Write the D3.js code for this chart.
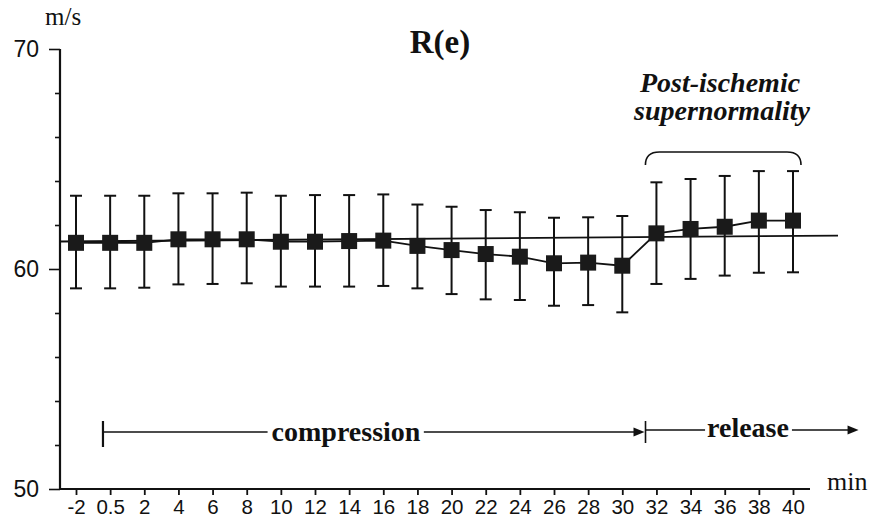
<!DOCTYPE html>
<html>
<head>
<meta charset="utf-8">
<script src="https://cdn.jsdelivr.net/npm/d3@7/dist/d3.min.js"></script>
<style>
  html, body { margin: 0; padding: 0; background: #fff; }
  svg { display: block; }
</style>
</head>
<body>
<svg id="chart" width="872" height="524"></svg>
<script>
// ---- data ----
const times = ["-2","0.5","2","4","6","8","10","12","14","16","18","20","22","24","26","28","30","32","34","36","38","40"];
const meanValues = [61.19,61.19,61.19,61.35,61.35,61.35,61.24,61.24,61.27,61.29,61.05,60.86,60.68,60.56,60.26,60.29,60.15,61.62,61.82,61.92,62.20,62.20];
const upperValues = [63.33,63.33,63.33,63.44,63.44,63.47,63.33,63.36,63.36,63.39,62.93,62.83,62.68,62.58,62.33,62.35,62.41,63.94,64.09,64.23,64.45,64.45];
const lowerValues = [59.12,59.12,59.15,59.30,59.32,59.35,59.20,59.20,59.20,59.23,59.12,58.86,58.62,58.59,58.33,58.36,58.03,59.32,59.55,59.70,59.83,59.85];
const baselineValues = [61.25, 61.52];   // reference (pre-compression) level line, start / end
const yMajorTicks = [50, 60, 70];
const yMinorTicks = [52, 54, 56, 58, 62, 64, 66, 68];
const titleText = "R(e)";
const yUnit = "m/s";
const xUnit = "min";

// ---- scales ----
const svg = d3.select("#chart");
const ink = "#111";
const x = d3.scalePoint().domain(times).range([76, 793]);
const y = d3.scaleLinear().domain([50, 70]).range([489, 49]);
const step = x.step();
const axisX = 60, axisRight = 810;

// ---- axes ----
const yAxisMajor = d3.axisLeft(y).tickValues(yMajorTicks).tickSize(11).tickPadding(10).tickFormat(d3.format("d"));
const gy = svg.append("g").attr("transform", `translate(${axisX},0)`).call(yAxisMajor);
gy.select(".domain").remove();
gy.selectAll(".tick line").attr("stroke", ink).attr("stroke-width", 1.6);
gy.selectAll(".tick text").attr("fill", ink).attr("font-family", "'Liberation Sans', Arial, sans-serif").attr("font-size", 23);

const gyMinor = svg.append("g").attr("transform", `translate(${axisX},0)`)
  .call(d3.axisLeft(y).tickValues(yMinorTicks).tickSize(5).tickFormat(""));
gyMinor.select(".domain").remove();
gyMinor.selectAll(".tick line").attr("stroke", ink).attr("stroke-width", 1.6);

svg.append("line").attr("x1", axisX).attr("x2", axisX).attr("y1", y(70)).attr("y2", y(50))
  .attr("stroke", ink).attr("stroke-width", 2.2);

const gx = svg.append("g").attr("transform", `translate(0,${y(50)})`)
  .call(d3.axisBottom(x).tickSize(6).tickPadding(4));
gx.select(".domain").remove();
gx.selectAll(".tick line").attr("stroke", ink).attr("stroke-width", 1.8);
gx.selectAll(".tick text").attr("fill", ink).attr("font-family", "'Liberation Sans', Arial, sans-serif").attr("font-size", 20.5);

svg.append("line").attr("x1", axisX).attr("x2", axisRight).attr("y1", y(50)).attr("y2", y(50))
  .attr("stroke", ink).attr("stroke-width", 2);

// axis unit labels
svg.append("text").attr("x", 45).attr("y", 25).text(yUnit)
  .attr("font-family", "'Liberation Serif', 'Times New Roman', serif").attr("font-size", 25).attr("fill", ink);
svg.append("text").attr("x", 827).attr("y", 490).text(xUnit)
  .attr("font-family", "'Liberation Serif', 'Times New Roman', serif").attr("font-size", 26).attr("fill", ink);

// title
svg.append("text").attr("x", 440).attr("y", 53).attr("text-anchor", "middle").text(titleText)
  .attr("font-family", "'Liberation Serif', 'Times New Roman', serif").attr("font-weight", "bold")
  .attr("font-size", 33).attr("fill", ink);

// ---- baseline reference line ----
svg.append("line")
  .attr("x1", axisX).attr("x2", x(times[times.length - 1]) + 45)
  .attr("y1", y(baselineValues[0])).attr("y2", y(baselineValues[1]))
  .attr("stroke", ink).attr("stroke-width", 1.8);

// ---- data ----
const data = times.map((t, i) => ({ t, m: meanValues[i], hi: upperValues[i], lo: lowerValues[i] }));

// error bars
const eb = svg.append("g").selectAll("g").data(data).join("g");
eb.append("line").attr("x1", d => x(d.t)).attr("x2", d => x(d.t))
  .attr("y1", d => y(d.hi)).attr("y2", d => y(d.lo)).attr("stroke", ink).attr("stroke-width", 2);
eb.append("line").attr("x1", d => x(d.t) - 6).attr("x2", d => x(d.t) + 6)
  .attr("y1", d => y(d.hi)).attr("y2", d => y(d.hi)).attr("stroke", ink).attr("stroke-width", 2);
eb.append("line").attr("x1", d => x(d.t) - 6).attr("x2", d => x(d.t) + 6)
  .attr("y1", d => y(d.lo)).attr("y2", d => y(d.lo)).attr("stroke", ink).attr("stroke-width", 2);

// connecting line
svg.append("path").datum(data)
  .attr("d", d3.line().x(d => x(d.t)).y(d => y(d.m)))
  .attr("fill", "none").attr("stroke", ink).attr("stroke-width", 1.8);

// square markers
svg.append("g").selectAll("rect").data(data).join("rect")
  .attr("x", d => x(d.t) - 8).attr("y", d => y(d.m) - 8)
  .attr("width", 16).attr("height", 16).attr("fill", "#1a1a1a");

// ---- annotations ----
const serif = "'Liberation Serif', 'Times New Roman', serif";
const compStart = x("-2") + 0.79 * step;
const relStart = x("30") + 0.68 * step;
const arrowEnd = x("40") + 1.92 * step;
const compY = 432, relY = 430;

function arrowHead(xEnd, yy) {
  svg.append("path")
    .attr("d", `M${xEnd},${yy} L${xEnd - 11},${yy - 4.5} L${xEnd - 11},${yy + 4.5} Z`)
    .attr("fill", ink);
}

// start bars
svg.append("line").attr("x1", compStart).attr("x2", compStart).attr("y1", compY - 11).attr("y2", compY + 15)
  .attr("stroke", ink).attr("stroke-width", 2.2);
svg.append("line").attr("x1", relStart).attr("x2", relStart).attr("y1", relY - 9).attr("y2", relY + 13)
  .attr("stroke", ink).attr("stroke-width", 1.6);

const compText = svg.append("text").attr("x", 346).attr("y", 441).attr("text-anchor", "middle")
  .text("compression").attr("font-family", serif).attr("font-weight", "bold").attr("font-size", 28).attr("fill", ink);
const relText = svg.append("text").attr("x", 748).attr("y", 437).attr("text-anchor", "middle")
  .text("release").attr("font-family", serif).attr("font-weight", "bold").attr("font-size", 28).attr("fill", ink);

const cb = compText.node().getBBox();
const rb = relText.node().getBBox();
svg.append("line").attr("x1", compStart).attr("x2", cb.x - 4).attr("y1", compY).attr("y2", compY)
  .attr("stroke", ink).attr("stroke-width", 1.6);
svg.append("line").attr("x1", cb.x + cb.width + 3).attr("x2", relStart - 4).attr("y1", compY).attr("y2", compY)
  .attr("stroke", ink).attr("stroke-width", 1.6);
arrowHead(relStart - 1, compY);
svg.append("line").attr("x1", relStart).attr("x2", rb.x - 2).attr("y1", relY).attr("y2", relY)
  .attr("stroke", ink).attr("stroke-width", 1.6);
svg.append("line").attr("x1", rb.x + rb.width + 3).attr("x2", arrowEnd - 5).attr("y1", relY).attr("y2", relY)
  .attr("stroke", ink).attr("stroke-width", 1.6);
arrowHead(arrowEnd, relY);

// supernormality label and brace
svg.append("text").attr("x", 720).attr("y", 92).attr("text-anchor", "middle")
  .text("Post-ischemic").attr("font-family", serif).attr("font-weight", "bold").attr("font-style", "italic")
  .attr("font-size", 28).attr("fill", ink);
svg.append("text").attr("x", 722).attr("y", 120).attr("text-anchor", "middle")
  .text("supernormality").attr("font-family", serif).attr("font-weight", "bold").attr("font-style", "italic")
  .attr("font-size", 28).attr("fill", ink);

const bL = x("32") - 11, bR = x("40") + 8, bTop = 152, bBot = 165;
svg.append("path")
  .attr("d", `M${bL},${bBot} Q${bL},${bTop} ${bL + 14},${bTop} L${bR - 14},${bTop} Q${bR},${bTop} ${bR},${bBot}`)
  .attr("fill", "none").attr("stroke", ink).attr("stroke-width", 1.6);
</script>
</body>
</html>
